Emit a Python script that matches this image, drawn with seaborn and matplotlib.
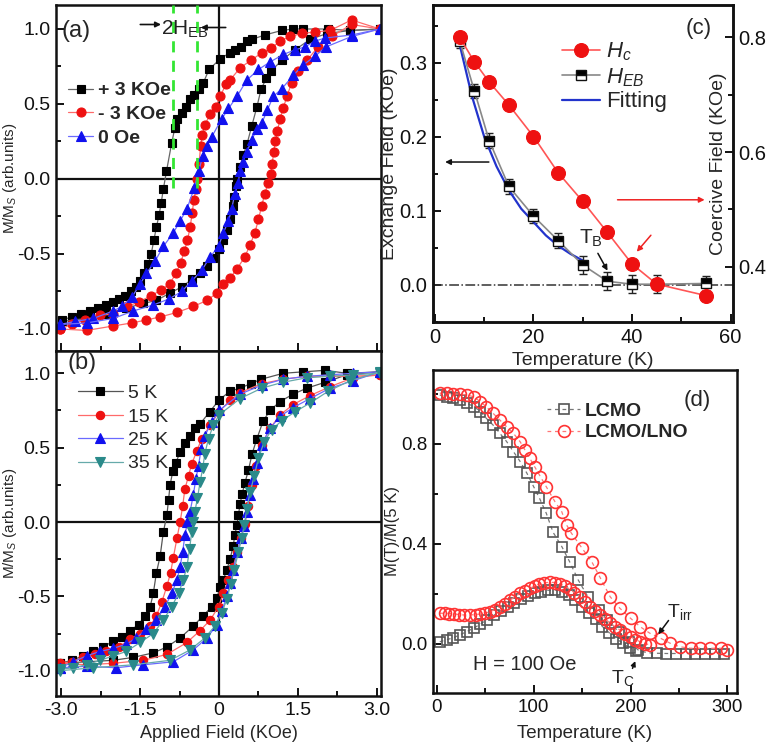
import matplotlib
matplotlib.use("Agg")
import matplotlib.pyplot as plt
from matplotlib.ticker import MultipleLocator
import seaborn as sns

# ---------------- panel (a): loops after field cooling ----------------
a_p3_dn_h = [3.06, 2.49, 2.08, 1.60, 1.41, 1.19, 0.87, 0.62, 0.54, 0.41, 0.30, 0.20, 0.02, -0.19, -0.30,
             -0.39, -0.48, -0.55, -0.63, -0.71, -0.79, -0.84, -0.90, -1.00, -1.06, -1.10, -1.14, -1.19,
             -1.24, -1.29, -1.35, -1.42, -1.50, -1.58, -1.68, -1.78, -1.90, -2.02, -2.15, -2.30, -2.45,
             -2.62, -2.80, -2.99]
a_p3_dn_m = [1.00, 0.99, 1.00, 1.00, 1.00, 0.99, 0.96, 0.93, 0.92, 0.88, 0.86, 0.84, 0.80, 0.73, 0.64,
             0.60, 0.56, 0.53, 0.48, 0.44, 0.40, 0.34, 0.24, 0.05, -0.07, -0.16, -0.24, -0.32,
             -0.41, -0.50, -0.57, -0.63, -0.68, -0.72, -0.75, -0.78, -0.80, -0.82, -0.84, -0.86, -0.88,
             -0.90, -0.92, -0.94]
a_p3_up_h = [-2.99, -2.52, -2.14, -1.76, -1.44, -1.19, -0.93, -0.71, -0.52, -0.36, -0.23, -0.11, -0.01,
             0.07, 0.15, 0.21, 0.26, 0.29, 0.32, 0.35, 0.40, 0.46, 0.53, 0.62, 0.72, 0.80, 0.90, 0.99,
             1.19, 1.44, 1.73, 2.05, 2.49, 3.06]
a_p3_up_m = [-0.95, -0.93, -0.90, -0.86, -0.83, -0.81, -0.76, -0.72, -0.67, -0.63, -0.58, -0.53, -0.47,
             -0.41, -0.34, -0.27, -0.18, -0.12, -0.05, 0.00, 0.08, 0.16, 0.23, 0.35, 0.48, 0.60, 0.67, 0.72,
             0.79, 0.86, 0.93, 0.97, 0.99, 1.00]

a_m3_dn_h = [3.06, 2.52, 2.11, 1.83, 1.57, 1.35, 1.16, 0.99, 0.81, 0.60, 0.40, 0.21, 0.13, 0.02, -0.06,
             -0.17, -0.27, -0.32, -0.35, -0.38, -0.41, -0.44, -0.48, -0.51, -0.55, -0.60, -0.66, -0.73,
             -0.82, -0.94, -1.10, -1.30, -1.52, -1.75, -2.01, -2.26, -2.55, -2.80, -3.02]
a_m3_dn_m = [1.00, 1.06, 0.99, 0.98, 0.97, 0.95, 0.92, 0.87, 0.84, 0.79, 0.74, 0.66, 0.63, 0.55, 0.48,
             0.43, 0.36, 0.29, 0.22, 0.10, 0.00, -0.07, -0.14, -0.23, -0.32, -0.41, -0.48, -0.56,
             -0.63, -0.70, -0.74, -0.78, -0.82, -0.85, -0.90, -0.91, -0.94, -0.97, -1.00]
a_m3_up_h = [-3.02, -2.52, -2.01, -1.66, -1.38, -1.12, -0.80, -0.49, -0.23, -0.04, 0.08, 0.21, 0.34, 0.49,
             0.59, 0.68, 0.75, 0.81, 0.87, 0.93, 0.98, 1.01, 1.04, 1.07, 1.11, 1.16, 1.22, 1.29, 1.38,
             1.50, 1.67, 1.88, 2.14, 2.52, 3.06]
a_m3_up_m = [-1.00, -1.01, -0.98, -0.96, -0.94, -0.92, -0.89, -0.85, -0.81, -0.76, -0.70, -0.66, -0.60, -0.52,
             -0.44, -0.36, -0.27, -0.18, -0.10, -0.03, 0.03, 0.10, 0.18, 0.25, 0.32, 0.40, 0.47, 0.55, 0.64,
             0.72, 0.79, 0.88, 0.95, 1.03, 1.00]

a_0_dn_h = [3.06, 2.52, 2.02, 1.83, 1.63, 1.44, 1.22, 0.97, 0.75, 0.53, 0.34, 0.18, 0.05, -0.14, -0.23,
            -0.31, -0.39, -0.47, -0.61, -0.74, -0.87, -1.06, -1.22, -1.38, -1.50, -1.66, -1.85, -2.01,
            -2.39, -2.74, -3.02]
a_0_dn_m = [1.00, 0.96, 0.94, 0.92, 0.88, 0.86, 0.83, 0.78, 0.73, 0.66, 0.55, 0.47, 0.40, 0.28, 0.22,
            0.15, 0.05, -0.06, -0.20, -0.28, -0.36, -0.45, -0.55, -0.63, -0.70, -0.79, -0.85, -0.88,
            -0.93, -0.95, -0.97]
a_0_up_h = [-3.02, -2.52, -2.01, -1.63, -1.25, -0.95, -0.71, -0.52, -0.33, -0.17, -0.01, 0.08, 0.18, 0.24,
            0.30, 0.36, 0.40, 0.45, 0.53, 0.62, 0.72, 0.81, 0.92, 1.03, 1.19, 1.41, 1.60, 1.83, 2.03,
            2.52, 3.06]
a_0_up_m = [-0.97, -0.96, -0.93, -0.88, -0.84, -0.80, -0.75, -0.68, -0.61, -0.52, -0.45, -0.36, -0.28, -0.20,
            -0.10, -0.03, 0.05, 0.11, 0.18, 0.26, 0.33, 0.37, 0.46, 0.55, 0.60, 0.69, 0.76, 0.82, 0.88,
            0.95, 1.00]

# ---------------- panel (b): loops at several temperatures ----------------
b_5_dn_h = [3.06, 2.43, 2.02, 1.60, 1.22, 0.80, 0.60, 0.40, 0.21, 0.00, -0.18, -0.36, -0.46, -0.55, -0.65,
            -0.74, -0.82, -0.88, -0.93, -0.96, -0.99, -1.06, -1.12, -1.19, -1.25, -1.31, -1.41, -1.53,
            -1.69, -1.85, -2.01, -2.20, -2.39, -2.58, -2.80, -3.02]
b_5_dn_m = [1.01, 1.00, 1.02, 1.01, 1.00, 0.96, 0.93, 0.90, 0.88, 0.82, 0.74, 0.66, 0.63, 0.58, 0.53,
            0.47, 0.40, 0.34, 0.25, 0.15, 0.05, -0.07, -0.23, -0.34, -0.48, -0.57, -0.63, -0.69,
            -0.73, -0.77, -0.80, -0.84, -0.87, -0.90, -0.93, -0.95]
b_5_up_h = [-3.02, -2.52, -2.01, -1.63, -1.25, -0.99, -0.74, -0.49, -0.30, -0.14, -0.04, 0.02, 0.08, 0.15,
            0.21, 0.27, 0.30, 0.34, 0.37, 0.40, 0.44, 0.49, 0.56, 0.63, 0.72, 0.84, 0.97, 1.16, 1.41,
            1.67, 2.02, 2.43, 3.06]
b_5_up_m = [-0.95, -0.94, -0.93, -0.91, -0.88, -0.84, -0.78, -0.70, -0.63, -0.57, -0.51, -0.44, -0.39, -0.32,
            -0.25, -0.16, -0.09, -0.02, 0.05, 0.12, 0.19, 0.26, 0.35, 0.46, 0.56, 0.68, 0.75, 0.81, 0.86,
            0.90, 0.94, 0.99, 1.01]

b_15_dn_h = [3.06, 2.55, 2.11, 1.67, 1.22, 0.81, 0.40, 0.21, 0.00, -0.17, -0.33, -0.42, -0.52, -0.58, -0.65,
             -0.69, -0.74, -0.80, -0.87, -0.92, -0.99, -1.09, -1.19, -1.31, -1.50, -1.69, -1.91, -2.14,
             -2.36, -2.58, -2.80, -3.02]
b_15_dn_m = [0.99, 0.98, 0.98, 0.98, 0.96, 0.93, 0.87, 0.82, 0.74, 0.65, 0.56, 0.48, 0.39, 0.31, 0.22,
             0.11, 0.00, -0.11, -0.24, -0.34, -0.43, -0.54, -0.63, -0.70, -0.75, -0.79, -0.84, -0.87,
             -0.89, -0.91, -0.94, -0.95]
b_15_up_h = [-3.02, -2.52, -2.01, -1.44, -0.99, -0.61, -0.36, -0.17, -0.01, 0.08, 0.18, 0.27, 0.35, 0.41,
             0.49, 0.56, 0.62, 0.70, 0.81, 0.97, 1.16, 1.41, 1.73, 2.11, 2.55, 3.06]
b_15_up_m = [-0.95, -0.96, -0.95, -0.93, -0.89, -0.81, -0.73, -0.66, -0.57, -0.48, -0.39, -0.30, -0.20, -0.11,
             -0.01, 0.11, 0.25, 0.38, 0.52, 0.63, 0.72, 0.79, 0.85, 0.91, 0.97, 0.99]

b_25_dn_h = [3.06, 2.55, 2.11, 1.67, 1.22, 0.81, 0.40, 0.00, -0.14, -0.27, -0.34, -0.39, -0.44, -0.49, -0.55,
             -0.60, -0.65, -0.69, -0.74, -0.80, -0.90, -1.03, -1.19, -1.38, -1.57, -1.76, -2.01, -2.26,
             -2.52, -2.77, -3.02]
b_25_dn_m = [1.01, 1.00, 0.99, 0.98, 0.96, 0.92, 0.86, 0.75, 0.67, 0.58, 0.49, 0.38, 0.29, 0.18, 0.07,
             0.00, -0.09, -0.20, -0.30, -0.39, -0.48, -0.57, -0.66, -0.72, -0.78, -0.82, -0.85, -0.87,
             -0.90, -0.94, -0.98]
b_25_up_h = [-3.02, -2.52, -1.95, -1.44, -0.87, -0.49, -0.23, -0.04, 0.05, 0.15, 0.21, 0.27, 0.35, 0.41,
             0.48, 0.53, 0.58, 0.65, 0.72, 0.81, 0.97, 1.16, 1.41, 1.73, 2.11, 2.55, 3.06]
b_25_up_m = [-0.98, -0.97, -0.98, -0.96, -0.94, -0.86, -0.78, -0.69, -0.60, -0.50, -0.41, -0.32, -0.20, -0.11,
             -0.03, 0.07, 0.18, 0.29, 0.40, 0.52, 0.63, 0.71, 0.77, 0.83, 0.90, 0.95, 1.01]

b_35_dn_h = [3.06, 2.55, 2.11, 1.67, 1.22, 0.81, 0.40, 0.00, -0.11, -0.20, -0.27, -0.31, -0.36, -0.41, -0.46,
             -0.49, -0.52, -0.56, -0.61, -0.68, -0.77, -0.90, -1.06, -1.25, -1.50, -1.76, -2.01, -2.26,
             -2.52, -2.77, -3.02]
b_35_dn_m = [1.00, 0.99, 0.98, 0.97, 0.94, 0.90, 0.83, 0.72, 0.65, 0.56, 0.46, 0.36, 0.27, 0.16, 0.07,
             0.00, -0.07, -0.18, -0.30, -0.39, -0.48, -0.57, -0.66, -0.75, -0.81, -0.87, -0.90, -0.93,
             -0.96, -0.98, -0.99]
b_35_up_h = [-3.02, -2.39, -1.63, -0.93, -0.55, -0.27, -0.08, 0.05, 0.15, 0.22, 0.29, 0.37, 0.43, 0.48,
             0.53, 0.59, 0.67, 0.75, 0.86, 1.00, 1.19, 1.44, 1.73, 2.08, 2.49, 3.06]
b_35_up_m = [-1.00, -0.98, -0.96, -0.93, -0.86, -0.78, -0.70, -0.61, -0.52, -0.42, -0.32, -0.20, -0.11, -0.02,
             0.09, 0.20, 0.31, 0.43, 0.54, 0.62, 0.68, 0.74, 0.80, 0.88, 0.95, 1.01]

# ---------------- panel (c): exchange and coercive field ----------------
c_temp = [5, 8, 11, 15, 20, 25, 30, 35, 40, 45, 55]
c_heb = [0.330, 0.262, 0.195, 0.133, 0.093, 0.060, 0.027, 0.005, 0.001, 0.001, 0.002]
c_heb_err = [0.010, 0.010, 0.010, 0.010, 0.010, 0.010, 0.012, 0.012, 0.012, 0.012, 0.010]
c_hc = [0.800, 0.757, 0.722, 0.682, 0.627, 0.564, 0.514, 0.460, 0.405, 0.370, 0.350]
c_fit_temp = [5, 7.5, 10, 12.5, 15, 17.5, 20, 22.5, 25, 27.5, 30]
c_fit = [0.325, 0.255, 0.200, 0.160, 0.128, 0.103, 0.085, 0.067, 0.053, 0.042, 0.033]

# ---------------- panel (d): M(T) curves ----------------
d_lcmo_fc_t = [3, 10, 17, 24, 31, 38, 45, 51, 58, 65, 72, 79, 86, 93, 100, 106, 113, 120, 129, 137, 146,
               156, 167, 176, 188, 198, 208, 217, 227, 237, 247, 257, 267, 277, 287, 297]
d_lcmo_fc_m = [0.996, 0.989, 0.983, 0.976, 0.963, 0.950, 0.930, 0.903, 0.876, 0.843, 0.810, 0.770, 0.730,
               0.683, 0.629, 0.583, 0.523, 0.447, 0.390, 0.330, 0.256, 0.189, 0.136, 0.096, 0.049, 0.009,
               -0.024, -0.035, -0.037, -0.038, -0.038, -0.038, -0.038, -0.038, -0.038, -0.038]
d_lcmo_zfc_t = [3, 10, 17, 24, 31, 38, 45, 52, 59, 66, 73, 80, 87, 94, 101, 108, 115, 122, 129, 136, 143,
                150, 157, 164, 171, 178, 185, 192, 199, 206]
d_lcmo_zfc_m = [0.009, 0.017, 0.025, 0.037, 0.050, 0.063, 0.080, 0.098, 0.115, 0.133, 0.150, 0.165, 0.180,
                0.193, 0.203, 0.210, 0.215, 0.216, 0.210, 0.198, 0.175, 0.150, 0.125, 0.100, 0.070, 0.045,
                0.022, 0.003, -0.015, -0.027]
d_lno_fc_t = [3, 10, 17, 24, 31, 38, 45, 51, 58, 65, 72, 79, 86, 91, 96, 101, 107, 113, 122, 129, 134, 139,
              150, 160, 169, 179, 189, 200, 210, 220, 231, 241, 251, 262, 272, 282, 293, 300]
d_lno_fc_m = [1.003, 1.003, 1.000, 1.000, 0.996, 0.989, 0.969, 0.949, 0.923, 0.896, 0.869, 0.843, 0.809,
              0.776, 0.743, 0.709, 0.669, 0.629, 0.569, 0.529, 0.476, 0.443, 0.383, 0.329, 0.263, 0.189,
              0.143, 0.103, 0.069, 0.043, 0.023, 0.003, -0.011, -0.017, -0.017, -0.017, -0.017, -0.024]
d_lno_zfc_t = [3, 8, 13, 18, 23, 28, 34, 40, 45, 50, 55, 60, 65, 70, 76, 81, 86, 91, 96, 101, 106, 111, 117,
               122, 127, 132, 137, 142, 148, 153, 158, 163, 168, 174, 179, 184, 189, 194, 200, 205, 210,
               215, 220]
d_lno_zfc_m = [0.123, 0.123, 0.122, 0.120, 0.118, 0.116, 0.116, 0.118, 0.120, 0.124, 0.129, 0.138, 0.149,
               0.162, 0.176, 0.190, 0.203, 0.213, 0.223, 0.232, 0.240, 0.245, 0.247, 0.246, 0.240, 0.232,
               0.220, 0.205, 0.189, 0.170, 0.150, 0.133, 0.117, 0.100, 0.083, 0.070, 0.056, 0.042, 0.029,
               0.018, 0.009, 0.002, -0.004]

sns.set_theme(style="ticks")
plt.rcParams["font.family"] = ["Liberation Sans", "DejaVu Sans"]
plt.rcParams["mathtext.fontset"] = "custom"
plt.rcParams["mathtext.rm"] = "Liberation Sans"
plt.rcParams["mathtext.it"] = "Liberation Sans:italic"
plt.rcParams["axes.unicode_minus"] = False

W, H = 769, 753
fig = plt.figure(figsize=(W / 100, H / 100), dpi=100)


def box(l, t, r, b):
    return [l / W, 1 - b / H, (r - l) / W, (b - t) / H]


def style(ax, size=14):
    for s in ax.spines.values():
        s.set_linewidth(1.8)
        s.set_color("#111111")
    ax.tick_params(which="both", direction="in", width=1.4, labelsize=size, colors="#111111", pad=4)
    ax.tick_params(which="major", length=6)
    ax.tick_params(which="minor", length=3.5)


def branch(ax, h, m, marker, ms, line_c, mark_c, **kw):
    sns.lineplot(x=h, y=m, sort=False, estimator=None, ax=ax, color=line_c, linewidth=0.9,
                 marker=marker, markersize=ms, markerfacecolor=mark_c, markeredgecolor=mark_c,
                 markeredgewidth=0.8, **kw)
    return ax.lines[-1]


def drop_legend(ax):
    if ax.get_legend():
        ax.get_legend().remove()


ax_a = fig.add_axes(box(56, 5, 381, 351))
ax_b = fig.add_axes(box(56, 351, 381, 696))
ax_c = fig.add_axes(box(433, 5, 733, 322))
ax_d = fig.add_axes(box(433, 370, 737, 693))

# ---- (a)
for ax in (ax_a, ax_b):
    ax.axhline(0, color="#111111", lw=1.6, zorder=1)
    ax.axvline(0, color="#111111", lw=1.6, zorder=1)

h1 = branch(ax_a, a_p3_dn_h, a_p3_dn_m, "s", 5.5, "#666666", "#000000")
branch(ax_a, a_p3_up_h, a_p3_up_m, "s", 5.5, "#666666", "#000000")
h2 = branch(ax_a, a_m3_dn_h, a_m3_dn_m, "o", 6.5, "#ff6a6a", "#ee1111")
branch(ax_a, a_m3_up_h, a_m3_up_m, "o", 6.5, "#ff6a6a", "#ee1111")
h3 = branch(ax_a, a_0_dn_h, a_0_dn_m, "^", 6.5, "#6a6aff", "#1111ee")
branch(ax_a, a_0_up_h, a_0_up_m, "^", 6.5, "#6a6aff", "#1111ee")

for xg in (-0.88, -0.42):
    ax_a.axvline(xg, ymin=0.47, ymax=1, color="#33e633", lw=2, ls=(0, (4, 3)), zorder=3)

ax_a.set_xlim(-3.1, 3.08)
ax_a.set_ylim(-1.147, 1.16)
style(ax_a)
ax_a.xaxis.set_major_locator(MultipleLocator(1.5))
ax_a.xaxis.set_minor_locator(MultipleLocator(0.75))
ax_a.set_xticklabels([])
ax_a.set_yticks([-1.0, -0.5, 0.0, 0.5, 1.0])
ax_a.set_yticklabels(["-1.0", "-0.5", "0.0", "0.5", "1.0"])
ax_a.yaxis.set_minor_locator(MultipleLocator(0.25))
ax_a.set_xlabel("")
ax_a.set_ylabel("M/M$_S$ (arb.units)", fontsize=11)
ax_a.yaxis.set_label_coords(-0.115, 0.5)
drop_legend(ax_a)
ax_a.legend([h1, h2, h3], ["+ 3 KOe", "- 3 KOe", "0 Oe"], loc="upper left",
            bbox_to_anchor=(0.037, 0.778), frameon=False, borderpad=0, borderaxespad=0,
            handlelength=1.3, handletextpad=0.25, labelspacing=0.32,
            prop={"weight": "bold", "size": 14})
ax_a.text(0.018, 0.925, "(a)", transform=ax_a.transAxes, fontsize=17, va="center", ha="left")
ax_a.text(-0.65, 1.0, "2H$_{\\rm EB}$", fontsize=15, color="#222222", ha="center", va="center")
ax_a.annotate("", xy=(-1.05, 1.03), xytext=(-1.55, 1.03),
              arrowprops=dict(arrowstyle="-|>", color="#111111", lw=1.2, mutation_scale=8))
ax_a.annotate("", xy=(-0.40, 1.01), xytext=(0.18, 1.01),
              arrowprops=dict(arrowstyle="-|>", color="#111111", lw=1.2, mutation_scale=8))

# ---- (b)
g1 = branch(ax_b, b_5_dn_h, b_5_dn_m, "s", 5.5, "#555555", "#000000")
branch(ax_b, b_5_up_h, b_5_up_m, "s", 5.5, "#555555", "#000000")
g2 = branch(ax_b, b_15_dn_h, b_15_dn_m, "o", 6, "#ff6a6a", "#ee1111")
branch(ax_b, b_15_up_h, b_15_up_m, "o", 6, "#ff6a6a", "#ee1111")
g3 = branch(ax_b, b_25_dn_h, b_25_dn_m, "^", 6.5, "#6a6aff", "#1111ee")
branch(ax_b, b_25_up_h, b_25_up_m, "^", 6.5, "#6a6aff", "#1111ee")
g4 = branch(ax_b, b_35_dn_h, b_35_dn_m, "v", 6.5, "#66aaaa", "#2a8a8a")
branch(ax_b, b_35_up_h, b_35_up_m, "v", 6.5, "#66aaaa", "#2a8a8a")

ax_b.set_xlim(-3.1, 3.08)
ax_b.set_ylim(-1.17, 1.15)
style(ax_b)
ax_b.set_xticks([-3.0, -1.5, 0.0, 1.5, 3.0])
ax_b.set_xticklabels(["-3.0", "-1.5", "0", "1.5", "3.0"])
ax_b.xaxis.set_minor_locator(MultipleLocator(0.75))
ax_b.set_yticks([-1.0, -0.5, 0.0, 0.5, 1.0])
ax_b.set_yticklabels(["-1.0", "-0.5", "0.0", "0.5", "1.0"])
ax_b.yaxis.set_minor_locator(MultipleLocator(0.25))
ax_b.set_xlabel("Applied Field (KOe)", fontsize=13, labelpad=5)
ax_b.set_ylabel("M/M$_S$ (arb.units)", fontsize=11)
ax_b.yaxis.set_label_coords(-0.115, 0.5)
drop_legend(ax_b)
ax_b.legend([g1, g2, g3, g4], ["5 K", "15 K", "25 K", "35 K"], loc="upper left",
            bbox_to_anchor=(0.068, 0.903), frameon=False, borderpad=0, borderaxespad=0,
            handlelength=2.3, handletextpad=0.26, labelspacing=0.3, prop={"size": 14})
ax_b.text(0.035, 0.965, "(b)", transform=ax_b.transAxes, fontsize=17, va="center", ha="left")

# ---- (c)
ax_c2 = ax_c.twinx()
ax_c.axhline(0, color="#333333", lw=1.1, ls="-.", zorder=1)
ax_c.errorbar(c_temp, c_heb, yerr=c_heb_err, fmt="none", ecolor="#222222", elinewidth=1.0,
              capsize=3, capthick=1.0, zorder=3)
sns.lineplot(x=c_temp, y=c_heb, sort=False, estimator=None, ax=ax_c, color="#888888", linewidth=1.2,
             marker="s", markersize=7, fillstyle="top", markerfacecolor="#000000",
             markerfacecoloralt="white", markeredgecolor="#111111", markeredgewidth=1.0, zorder=4)
k_heb = ax_c.lines[-1]
sns.lineplot(x=c_fit_temp, y=c_fit, sort=False, estimator=None, ax=ax_c, color="#2233cc",
             linewidth=1.6, zorder=3)
k_fit = ax_c.lines[-1]
sns.lineplot(x=c_temp, y=c_hc, sort=False, estimator=None, ax=ax_c2, color="#ff5555", linewidth=1.2,
             marker="o", markersize=10, markerfacecolor="#ee1111", markeredgecolor="#ee1111",
             markeredgewidth=0.8)
k_hc = ax_c2.lines[-1]

ax_c.set_xlim(-0.4, 60.5)
ax_c.set_ylim(-0.05, 0.378)
ax_c2.set_ylim(0.304, 0.856)
style(ax_c, 14.5)
style(ax_c2, 14.5)
ax_c.xaxis.set_major_locator(MultipleLocator(20))
ax_c.xaxis.set_minor_locator(MultipleLocator(10))
ax_c.set_yticks([0.0, 0.1, 0.2, 0.3])
ax_c.yaxis.set_minor_locator(MultipleLocator(0.05))
ax_c2.set_yticks([0.4, 0.6, 0.8])
ax_c2.yaxis.set_minor_locator(MultipleLocator(0.1))
ax_c2.tick_params(which="both", right=True, left=False)
ax_c.set_xlabel("Temperature (K)", fontsize=14, labelpad=4)
ax_c.set_ylabel("Exchange Field (KOe)", fontsize=14, labelpad=1)
ax_c2.set_ylabel("Coercive Field (KOe)", fontsize=14)
ax_c2.yaxis.set_label_coords(0.925, 0.5)
drop_legend(ax_c)
drop_legend(ax_c2)
ax_c2.legend([k_hc, k_heb, k_fit], ["$H_c$", "$H_{EB}$", "Fitting"], loc="upper left",
             bbox_to_anchor=(0.43, 0.887), frameon=False, borderpad=0, borderaxespad=0,
             handlelength=1.7, handletextpad=0.3, labelspacing=0.12, prop={"size": 16})
ax_c2.text(0.885, 0.925, "(c)", transform=ax_c2.transAxes, fontsize=16, ha="center", va="center")
ax_c.annotate("", xy=(1.5, 0.166), xytext=(11.5, 0.166),
              arrowprops=dict(arrowstyle="-|>", color="#111111", lw=1.1, mutation_scale=8))
ax_c.annotate("", xy=(55.3, 0.115), xytext=(36.5, 0.115),
              arrowprops=dict(arrowstyle="-|>", color="#ee2222", lw=1.1, mutation_scale=8))
ax_c.annotate("", xy=(40.6, 0.042), xytext=(44.2, 0.07),
              arrowprops=dict(arrowstyle="-|>", color="#ee2222", lw=1.1, mutation_scale=8))
ax_c.text(31.6, 0.063, "T$_{\\rm B}$", fontsize=15, ha="center", va="center")
ax_c.annotate("", xy=(35.3, 0.016), xytext=(32.8, 0.046),
              arrowprops=dict(arrowstyle="-|>", color="#111111", lw=1.1, mutation_scale=8))

# ---- (d)
dash = (0, (3, 3))
q1 = branch(ax_d, d_lcmo_fc_t, d_lcmo_fc_m, "s", 7.5, "#777777", "none", linestyle=dash)
q1.set_markeredgecolor("#555555")
q_tmp = branch(ax_d, d_lcmo_zfc_t, d_lcmo_zfc_m, "s", 7.5, "#777777", "none", linestyle=dash)
q_tmp.set_markeredgecolor("#555555")
q2 = branch(ax_d, d_lno_fc_t, d_lno_fc_m, "o", 8.5, "#ff7777", "none", linestyle=dash)
q2.set_markeredgecolor("#ff3333")
q_tmp = branch(ax_d, d_lno_zfc_t, d_lno_zfc_m, "o", 8.5, "#ff7777", "none", linestyle=dash)
q_tmp.set_markeredgecolor("#ff3333")
for ln in ax_d.lines:
    ln.set_markeredgewidth(1.2)

ax_d.set_xlim(-4, 310)
ax_d.set_ylim(-0.196, 1.096)
style(ax_d, 13.5)
ax_d.xaxis.set_major_locator(MultipleLocator(100))
ax_d.xaxis.set_minor_locator(MultipleLocator(50))
ax_d.set_yticks([0.0, 0.4, 0.8])
ax_d.yaxis.set_minor_locator(MultipleLocator(0.2))
ax_d.set_xlabel("Temperature (K)", fontsize=13.5, labelpad=7)
ax_d.set_ylabel("M(T)/M(5 K)", fontsize=12, labelpad=1)
drop_legend(ax_d)
ax_d.legend([q1, q2], ["LCMO", "LCMO/LNO"], loc="upper left", bbox_to_anchor=(0.375, 0.9),
            frameon=False, borderpad=0, borderaxespad=0, handlelength=1.7, handletextpad=0.26,
            labelspacing=0.2, prop={"weight": "bold", "size": 14})
ax_d.text(0.868, 0.905, "(d)", transform=ax_d.transAxes, fontsize=16, ha="center", va="center")
ax_d.text(91, -0.084, "H = 100 Oe", fontsize=14.5, ha="center", va="center")
ax_d.text(251, 0.128, "T$_{\\rm irr}$", fontsize=14, ha="center", va="center")
ax_d.annotate("", xy=(227, 0.03), xytext=(241, 0.103),
              arrowprops=dict(arrowstyle="-|>", color="#111111", lw=1.1, mutation_scale=8))
ax_d.text(192, -0.136, "T$_{\\rm C}$", fontsize=14, ha="center", va="center")
ax_d.annotate("", xy=(206, -0.058), xytext=(201, -0.108),
              arrowprops=dict(arrowstyle="-|>", color="#111111", lw=1.1, mutation_scale=7))

fig.savefig("out.png", dpi=100)
